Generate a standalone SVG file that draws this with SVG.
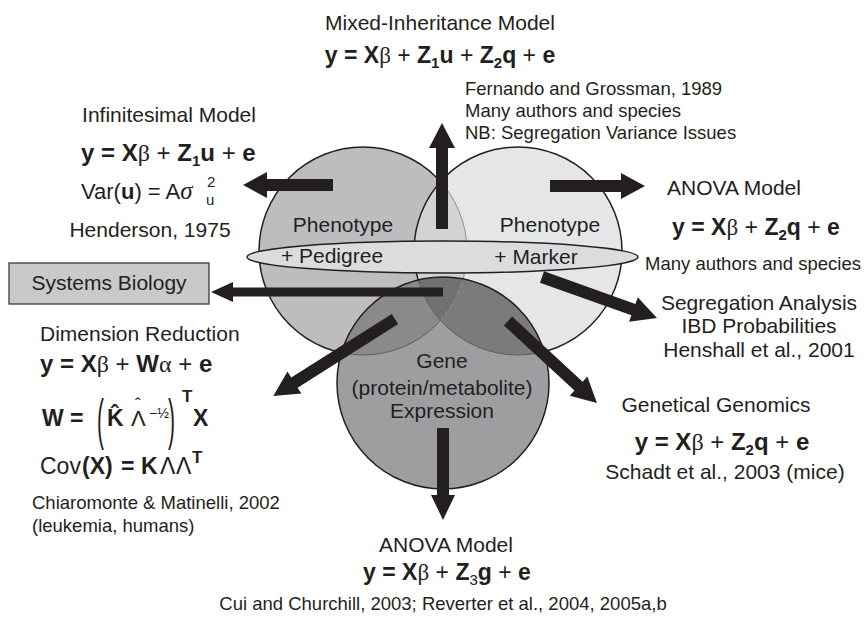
<svg xmlns="http://www.w3.org/2000/svg" width="864" height="618" viewBox="0 0 864 618">
<style>
.lab{font-family:"Liberation Sans",Arial,sans-serif;font-size:21px;fill:#231f20}
.sm{font-size:18.5px}
.eq{font-family:"Liberation Sans",Arial,sans-serif;font-size:23px;font-weight:bold;fill:#231f20}
.n{font-weight:normal}
.b{font-weight:bold}
.gr{font-family:"Liberation Serif","DejaVu Serif",serif;font-weight:normal}
.sb{font-size:15px}
.out{fill:none;stroke:#231f20;stroke-width:1.5}
.thin{fill:none;stroke:#5e5e61;stroke-width:1}
.arr{fill:#231f20}
</style>
<defs>
<clipPath id="cL"><circle cx="363" cy="251" r="104"/></clipPath>
<clipPath id="cR"><circle cx="518" cy="251" r="104"/></clipPath>
<clipPath id="cG"><circle cx="443" cy="383" r="106"/></clipPath>
</defs>
<rect width="864" height="618" fill="#ffffff"/>

<g id="node-phenotype-pedigree">
<circle cx="363" cy="251" r="104" fill="#bdbdc0"/>
<circle cx="363" cy="251" r="104" class="out"/>
</g>
<g id="node-phenotype-marker">
<circle cx="518" cy="251" r="104" fill="#e5e6e8"/>
<circle cx="518" cy="251" r="104" fill="#d3d3d6" clip-path="url(#cL)"/>
<circle cx="363" cy="251" r="104" fill="none" stroke="#8e8e91" stroke-width="1" clip-path="url(#cR)"/>
<circle cx="518" cy="251" r="104" class="out"/>
</g>
<g id="node-overlap-ellipse">
<ellipse cx="442.5" cy="257" rx="195.5" ry="16" fill="#dcdcdf" stroke="#231f20" stroke-width="1.5"/>
<text class="lab" x="332" y="263" text-anchor="middle">+ Pedigree</text>
<text class="lab" x="536" y="264" text-anchor="middle">+ Marker</text>
</g>
<g id="node-gene">
<circle cx="443" cy="383" r="106" fill="#9d9ea0"/>
<g clip-path="url(#cG)">
<circle cx="363" cy="251" r="104" fill="#8a8a8d"/>
<circle cx="363" cy="251" r="104" class="thin"/>
<circle cx="518" cy="251" r="104" fill="#7b7b7e"/>
<g clip-path="url(#cL)"><circle cx="518" cy="251" r="104" fill="#717174"/></g>
<g clip-path="url(#cR)"><circle cx="363" cy="251" r="104" fill="none" stroke="#939396" stroke-width="1" stroke-dasharray="5 3"/></g>
<circle cx="518" cy="251" r="104" class="thin"/>
</g>
<circle cx="443" cy="383" r="106" class="out"/>
<text class="lab" x="442" y="368" text-anchor="middle">Gene</text>
<text class="lab" x="442" y="395" text-anchor="middle">(protein/metabolite)</text>
<text class="lab" x="442" y="418" text-anchor="middle">Expression</text>
</g>
<g id="labels-phenotype">
<text class="lab" x="343" y="232" text-anchor="middle">Phenotype</text>
<text class="lab" x="550" y="232" text-anchor="middle">Phenotype</text>
</g>

<g id="node-systems-biology">
<rect x="9" y="263" width="200" height="41" fill="#c9c9cb" stroke="#3a3a3c" stroke-width="1.3"/>
<text class="lab" x="109" y="290" text-anchor="middle">Systems Biology</text>
</g>

<g id="connectors">
<path class="arr" transform="translate(333,185) rotate(180)" d="M0,-6 H66 V-13 L90,0 L66,13 V6 H0 Z"/>
<path class="arr" transform="translate(550,186)" d="M0,-6 H71 V-13 L95,0 L71,13 V6 H0 Z"/>
<path class="arr" transform="translate(442,229) rotate(-90)" d="M0,-6 H81 V-13 L106,0 L81,13 V6 H0 Z"/>
<path class="arr" transform="translate(443,292) rotate(180)" d="M0,-4.5 H210 V-10 L232,0 L210,10 V4.5 H0 Z"/>
<path class="arr" transform="translate(395,319) rotate(147.7)" d="M0,-6 H119 V-13 L144,0 L119,13 V6 H0 Z"/>
<path class="arr" transform="translate(508,321) rotate(42.7)" d="M0,-6 H96 V-13 L121,0 L96,13 V6 H0 Z"/>
<path class="arr" transform="translate(542,277) rotate(19.6)" d="M0,-6 H97 V-13 L122,0 L97,13 V6 H0 Z"/>
<path class="arr" transform="translate(443,428) rotate(90)" d="M0,-6 H67 V-12 L92,0 L67,12 V6 H0 Z"/>
</g>

<g id="node-mixed-inheritance">
<text class="lab" x="440" y="30" text-anchor="middle">Mixed-Inheritance Model</text>
<text class="eq" x="440" y="63" text-anchor="middle">y = X<tspan class="gr">β</tspan> <tspan class="n">+</tspan> Z<tspan class="sb" dy="5">1</tspan><tspan dy="-5">u</tspan> <tspan class="n">+</tspan> Z<tspan class="sb" dy="5">2</tspan><tspan dy="-5">q</tspan> <tspan class="n">+</tspan> e</text>
<text class="lab sm" x="465" y="95">Fernando and Grossman, 1989</text>
<text class="lab sm" x="465" y="117">Many authors and species</text>
<text class="lab sm" x="465" y="139">NB: Segregation Variance Issues</text>
</g>

<g id="node-infinitesimal">
<text class="lab" x="169" y="122" text-anchor="middle">Infinitesimal Model</text>
<text class="eq" x="81" y="161" style="font-size:24px">y = X<tspan class="gr">β</tspan> <tspan class="n">+</tspan> Z<tspan class="sb" dy="5">1</tspan><tspan dy="-5">u</tspan> <tspan class="n">+</tspan> e</text>
<text class="lab" x="81" y="199" style="font-size:22px">Var(<tspan class="b">u</tspan>) = A<tspan class="gr" style="font-style:italic;font-size:25px">σ</tspan></text>
<text class="lab" x="207" y="187" style="font-size:15px">2</text>
<text class="lab" x="206" y="205" style="font-size:15px">u</text>
<text class="lab" x="150" y="237" text-anchor="middle">Henderson, 1975</text>
</g>

<g id="node-anova-marker">
<text class="lab" x="734" y="195" text-anchor="middle">ANOVA Model</text>
<text class="eq" x="756" y="235" text-anchor="middle">y = X<tspan class="gr">β</tspan> <tspan class="n">+</tspan> Z<tspan class="sb" dy="5">2</tspan><tspan dy="-5">q</tspan> <tspan class="n">+</tspan> e</text>
<text class="lab sm" x="753" y="270" text-anchor="middle">Many authors and species</text>
</g>

<g id="node-segregation">
<text class="lab" x="759" y="310" text-anchor="middle">Segregation Analysis</text>
<text class="lab" x="759" y="333" text-anchor="middle">IBD Probabilities</text>
<text class="lab" x="759" y="357" text-anchor="middle">Henshall et al., 2001</text>
</g>

<g id="node-genetical-genomics">
<text class="lab" x="716" y="412" text-anchor="middle">Genetical Genomics</text>
<text class="eq" x="722" y="450" text-anchor="middle" style="font-size:24px">y = X<tspan class="gr">β</tspan> <tspan class="n">+</tspan> Z<tspan class="sb" dy="5">2</tspan><tspan dy="-5">q</tspan> <tspan class="n">+</tspan> e</text>
<text class="lab" x="725" y="479" text-anchor="middle">Schadt et al., 2003 (mice)</text>
</g>

<g id="node-anova-expression">
<text class="lab" x="446" y="552" text-anchor="middle">ANOVA Model</text>
<text class="eq" x="447" y="580" text-anchor="middle">y = X<tspan class="gr">β</tspan> <tspan class="n">+</tspan> Z<tspan class="sb n" dy="5">3</tspan><tspan dy="-5">g</tspan> <tspan class="n">+</tspan> e</text>
<text class="lab sm" x="443" y="610" text-anchor="middle">Cui and Churchill, 2003; Reverter et al., 2004, 2005a,b</text>
</g>

<g id="node-dimension-reduction">
<text class="lab" x="40" y="341">Dimension Reduction</text>
<text class="eq" x="40" y="372" style="font-size:24px">y = X<tspan class="gr">β</tspan> <tspan class="n">+</tspan> W<tspan class="gr">α</tspan> <tspan class="n">+</tspan> e</text>
<text class="eq" x="42" y="426">W =</text>
<text class="lab" transform="translate(97,438) scale(1,2.6)" style="font-size:21px">(</text>
<text class="eq" y="426"><tspan x="107">K&#x302;</tspan><tspan x="131" class="n" style="font-size:22px">Λ</tspan><tspan x="135" y="410" class="n" style="font-size:17px">ˆ</tspan><tspan x="149" y="418" class="n" style="font-size:14px">−½</tspan></text>
<text class="lab" transform="translate(168,438) scale(1,2.6)" style="font-size:21px">)</text>
<text class="eq" x="182" y="402" style="font-size:17px">T</text>
<text class="eq" x="193" y="426">X</text>
<text class="lab" y="474" style="font-size:23px"><tspan x="40">Cov</tspan><tspan x="82" class="b">(X)</tspan><tspan x="121" class="b">=</tspan><tspan x="141" class="b">K</tspan><tspan x="160">Λ</tspan><tspan x="176">Λ</tspan></text>
<text class="eq" x="192" y="463" style="font-size:17px">T</text>
<text class="lab sm" x="32" y="509">Chiaromonte &amp; Matinelli, 2002</text>
<text class="lab sm" x="32" y="532">(leukemia, humans)</text>
</g>
</svg>
